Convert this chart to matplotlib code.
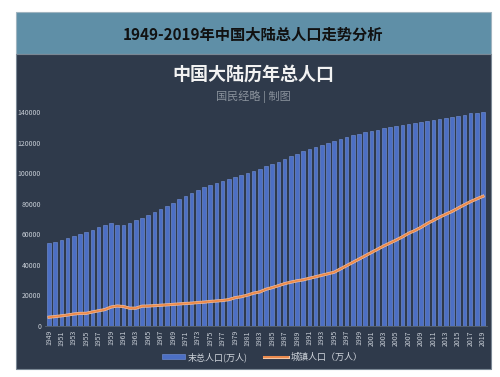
import matplotlib
matplotlib.use("Agg")
import matplotlib.pyplot as plt
import matplotlib.patheffects as pe
from matplotlib.patches import Rectangle
import numpy as np

plt.rcParams['font.family'] = ['Noto Sans CJK SC', 'DejaVu Sans']

years = list(range(1949, 2020))

# year-end total population (10k persons)
total_pop = [54167, 55196, 56300, 57482, 58796, 60266, 61465, 62828, 64653, 65994,
             67207, 66207, 65859, 67295, 69172, 70499, 72538, 74542, 76368, 78534,
             80671, 82992, 85229, 87177, 89211, 90859, 92420, 93717, 94974, 96259,
             97542, 98705, 100072, 101654, 103008, 104357, 105851, 107507, 109300, 111026,
             112704, 114333, 115823, 117171, 118517, 119850, 121121, 122389, 123626, 124761,
             125786, 126743, 127627, 128453, 129227, 129988, 130756, 131448, 132129, 132802,
             133450, 134091, 134735, 135404, 136072, 136782, 137462, 138271, 139008, 139538,
             140005]

# urban population (10k persons)
urban_pop = [5765, 6169, 6632, 7163, 7826, 8249, 8285, 9185, 9949, 10721,
             12371, 13073, 12707, 11659, 11646, 12950, 13045, 13313, 13548, 13838,
             14117, 14424, 14711, 14935, 15345, 15595, 16030, 16341, 16669, 17245,
             18495, 19140, 20171, 21480, 22274, 24017, 25094, 26366, 27674, 28661,
             29540, 30195, 31203, 32175, 33173, 34169, 35174, 37304, 39449, 41608,
             43748, 45906, 48064, 50212, 52376, 54283, 56212, 58288, 60633, 62403,
             64512, 66978, 69079, 71182, 73111, 74916, 77116, 79298, 81347, 83137,
             84843]

y_ticks = [0, 20000, 40000, 60000, 80000, 100000, 120000, 140000]

panel_bg = '#2f3a4b'
header_bg = '#5f8fa7'

fig = plt.figure(figsize=(5.0, 3.77), dpi=100)
fig.patch.set_facecolor('white')

# header band + dark panel
fig.patches.append(Rectangle((16 / 500, 1 - 54 / 377), 475 / 500, 42 / 377,
                             transform=fig.transFigure, facecolor=header_bg,
                             edgecolor='#9fb4c0', linewidth=0.8, zorder=-10))
fig.patches.append(Rectangle((16 / 500, 1 - 369 / 377), 475 / 500, 315 / 377,
                             transform=fig.transFigure, facecolor=panel_bg,
                             edgecolor='#7a8794', linewidth=0.8, zorder=-10))

fig.text(253 / 500, 1 - 35 / 377, '1949-2019年中国大陆总人口走势分析',
         ha='center', va='center', fontsize=11, fontweight='bold', color='#111111')
fig.text(253 / 500, 1 - 74 / 377, '中国大陆历年总人口',
         ha='center', va='center', fontsize=13, fontweight='bold', color='#f2f2f2')
fig.text(253 / 500, 1 - 97 / 377, '国民经略 | 制图',
         ha='center', va='center', fontsize=8, color='#8a929c')

ax = fig.add_axes([0.0906, 0.1353, 0.8828, 0.588])
ax.set_facecolor('none')

x = np.arange(len(years))
bars = ax.bar(x, total_pop, width=0.56, color='#4c6fc4', edgecolor='#7594dc',
              linewidth=0.4, label='末总人口(万人)', zorder=2)
line, = ax.plot(x, urban_pop, color='#ec8a4c', linewidth=1.4, label='城镇人口（万人）', zorder=3,
                path_effects=[pe.Stroke(linewidth=2.2, foreground='#f4c6a4'), pe.Normal()])

ax.set_xlim(-0.6, len(years) - 0.4)
ax.set_ylim(0, 145000)
ax.set_yticks(y_ticks)
ax.set_yticklabels([str(v) for v in y_ticks], fontsize=5, color='#c8ced6')
ax.set_xticks(x[::2])
ax.set_xticklabels([str(y) for y in years[::2]], rotation=90, fontsize=5, color='#c8ced6')
ax.tick_params(length=0, pad=3)
for s in ax.spines.values():
    s.set_visible(False)
ax.spines['bottom'].set_visible(True)
ax.spines['bottom'].set_color('#5a6676')
ax.spines['bottom'].set_linewidth(0.6)

leg = fig.legend([bars, line], ['末总人口(万人)', '城镇人口（万人）'], loc='center',
                 bbox_to_anchor=(262 / 500, 1 - 357 / 377), ncol=2,
                 frameon=False, fontsize=6.5, handlelength=2.6, columnspacing=1.8,
                 handletextpad=0.3, handleheight=0.5)
for t in leg.get_texts():
    t.set_color('#d0d5dc')

fig.savefig('out.png', dpi=100, facecolor=fig.get_facecolor())
